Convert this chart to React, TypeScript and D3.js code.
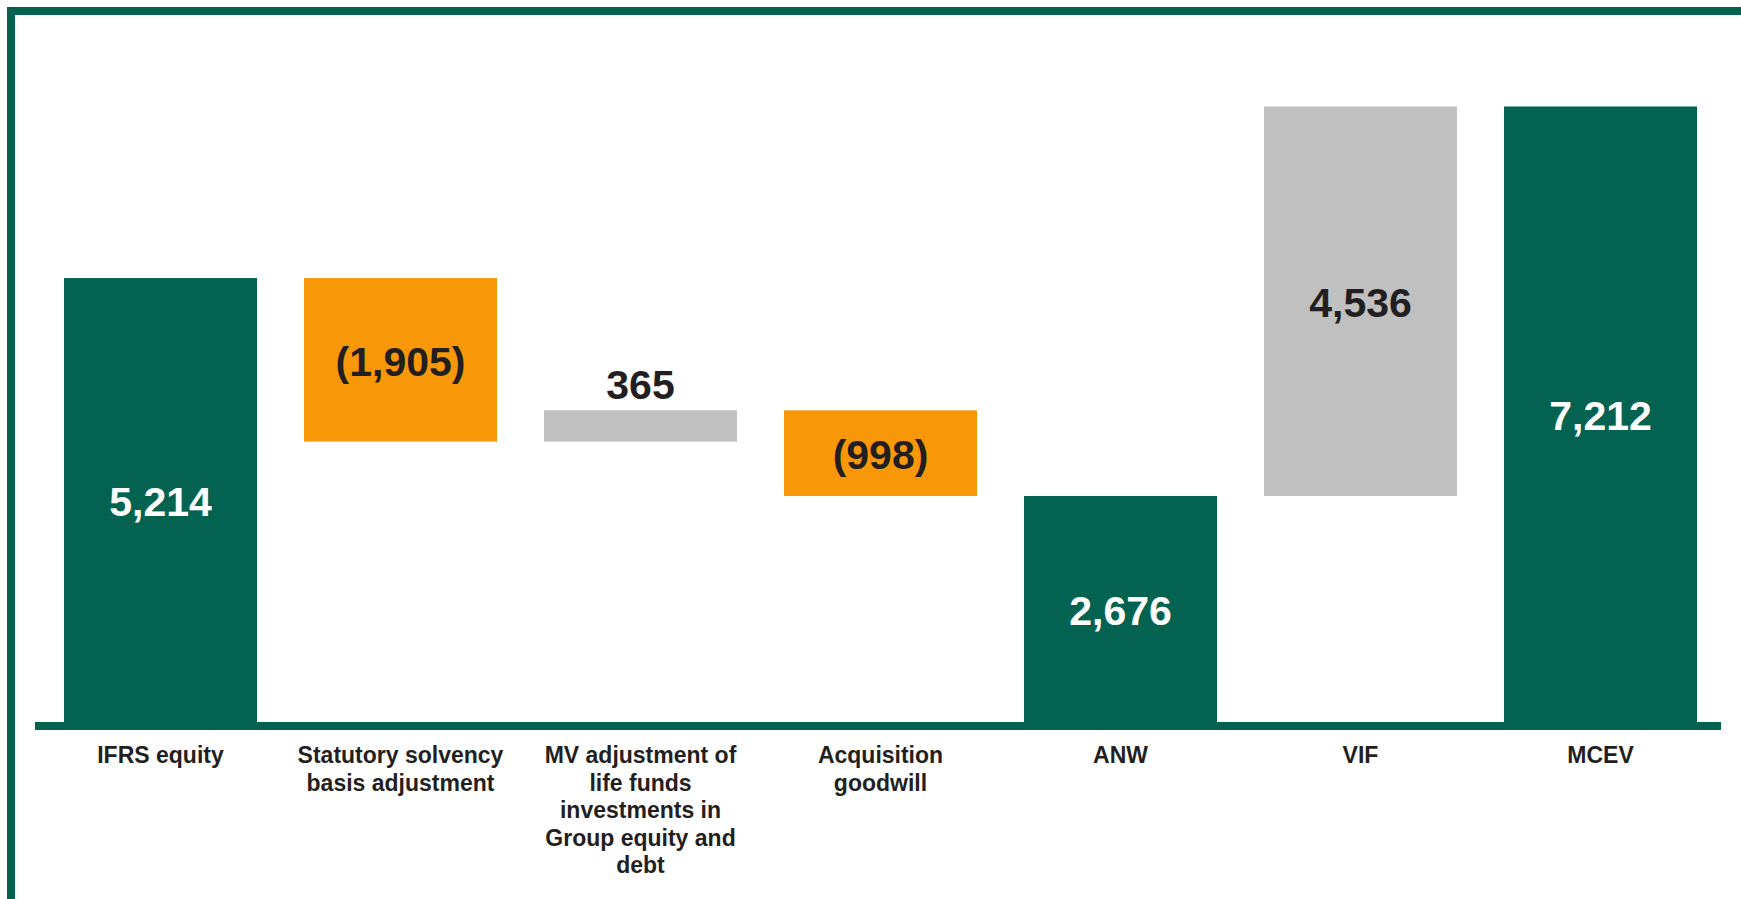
import React from "react";
import * as d3 from "d3";

const categories = [
  ["IFRS equity"],
  ["Statutory solvency", "basis adjustment"],
  ["MV adjustment of", "life funds", "investments in", "Group equity and", "debt"],
  ["Acquisition", "goodwill"],
  ["ANW"],
  ["VIF"],
  ["MCEV"],
];
const values = [5214, -1905, 365, -998, 2676, 4536, 7212];
const kinds = ["total", "delta", "delta", "delta", "total", "delta", "total"];
const valueLabels = ["5,214", "(1,905)", "365", "(998)", "2,676", "4,536", "7,212"];

const W = 1741;
const H = 899;
const GREEN = "#036350";
const ORANGE = "#F89707";
const GRAY = "#C0C0C0";
const TEXT = "#231F20";

export default function App() {
  let run = 0;
  const segs = values.map((v, i) => {
    let lo: number, hi: number;
    if (kinds[i] === "total") {
      lo = 0;
      hi = v;
      run = v;
    } else {
      const start = run;
      run = run + v;
      lo = Math.min(start, run);
      hi = Math.max(start, run);
    }
    return { i, v, lo, hi, kind: kinds[i] };
  });

  const x = d3
    .scaleBand<number>()
    .domain(values.map((_, i) => i))
    .range([40.5, 1720.5])
    .paddingInner(47 / 240)
    .paddingOuter(23.5 / 240);
  const y = d3.scaleLinear().domain([0, 7212]).range([725.8, 106.5]);

  const font = "'Liberation Sans', Arial, Helvetica, sans-serif";

  const fillFor = (s: any) =>
    s.kind === "total" ? GREEN : s.v < 0 ? ORANGE : GRAY;

  return (
    <svg
      width={W}
      height={H}
      style={{ position: "absolute", left: 0, top: 0, background: "#fff" }}
      fontFamily={font}
    >
      <rect x={0} y={0} width={W} height={H} fill="#fff" />
      <rect x={11} y={11} width={W + 40} height={H + 40} fill="none" stroke={GREEN} strokeWidth={8} />
      {segs.map((s) => {
        const top = y(s.hi);
        const bot = y(s.lo);
        return (
          <rect
            key={"b" + s.i}
            x={x(s.i)}
            y={top}
            width={x.bandwidth()}
            height={bot - top}
            fill={fillFor(s)}
          />
        );
      })}
      <rect x={35} y={722} width={1686} height={8} fill={GREEN} />
      {segs.map((s) => {
        const cx = (x(s.i) as number) + x.bandwidth() / 2;
        const top = y(s.hi);
        const bot = Math.min(y(s.lo), 722);
        const small = bot - top < 50;
        const yy = small ? top - 11 : (top + bot) / 2 + 16;
        return (
          <text
            key={"v" + s.i}
            x={cx}
            y={yy}
            textAnchor="middle"
            fontSize={41}
            fontWeight="bold"
            fill={s.kind === "total" ? "#ffffff" : TEXT}
          >
            {valueLabels[s.i]}
          </text>
        );
      })}
      {categories.map((lines, i) => {
        const cx = (x(i) as number) + x.bandwidth() / 2;
        return (
          <text
            key={"c" + i}
            x={cx}
            y={763}
            textAnchor="middle"
            fontSize={23}
            fontWeight="bold"
            fill={TEXT}
          >
            {lines.map((ln, j) => (
              <tspan key={j} x={cx} dy={j === 0 ? 0 : 27.5}>
                {ln}
              </tspan>
            ))}
          </text>
        );
      })}
    </svg>
  );
}
